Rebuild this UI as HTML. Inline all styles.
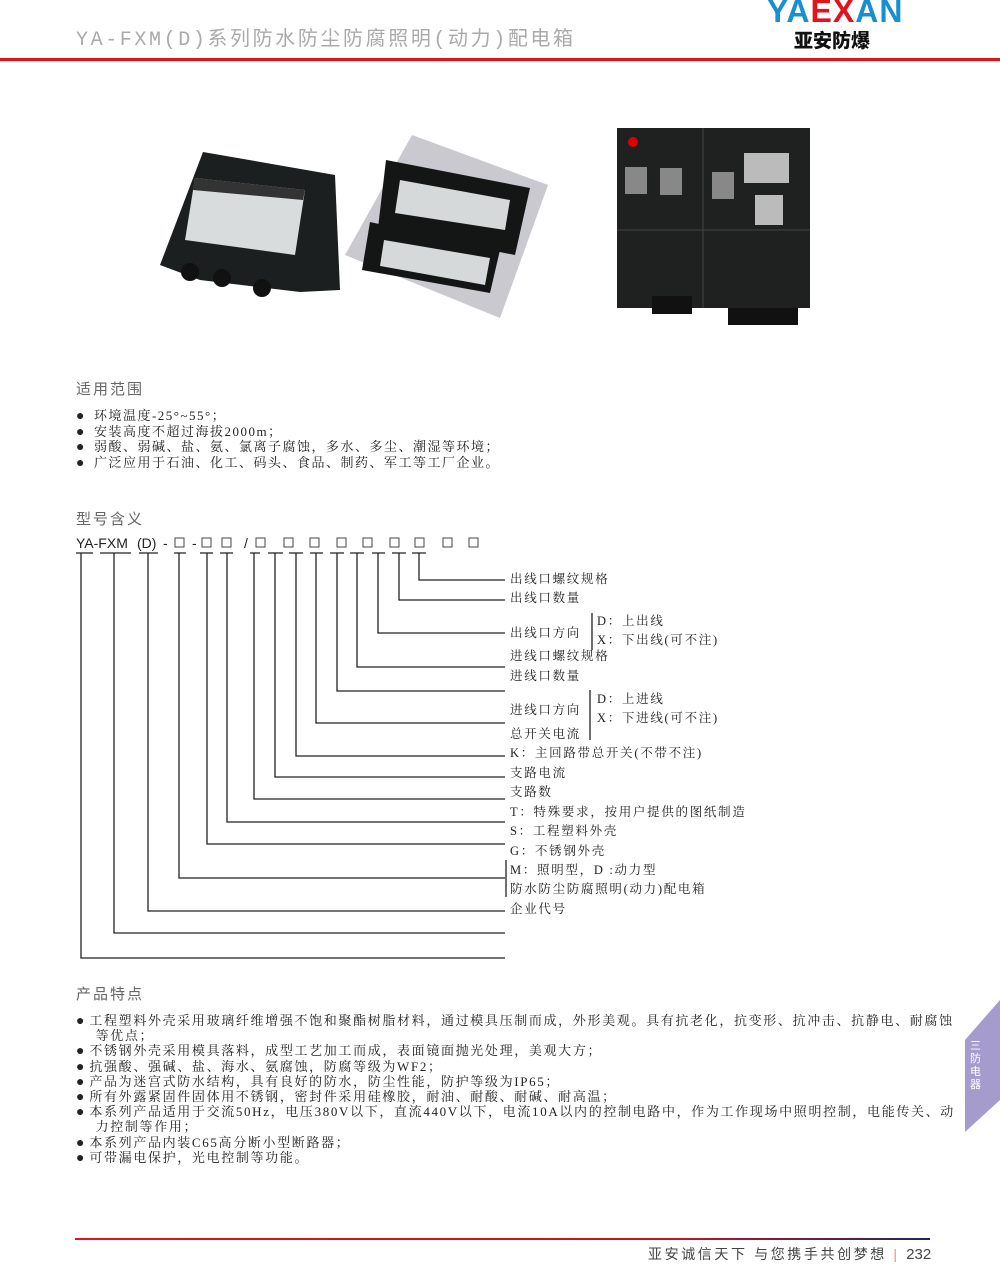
<!DOCTYPE html>
<html><head><meta charset="utf-8">
<style>
*{margin:0;padding:0;box-sizing:border-box}
body{width:1000px;height:1267px;position:relative;background:#fff;font-family:"Liberation Serif","Noto Serif CJK SC",serif;color:#222;overflow:hidden}
.a{position:absolute;white-space:nowrap}
.h{font-family:"Liberation Sans","Noto Sans CJK SC",sans-serif;color:#666;font-size:15px;letter-spacing:2px}
.li{font-size:13px;line-height:15.2px;letter-spacing:1.65px}
.lab{font-size:12.5px;line-height:14px;letter-spacing:1.7px}
.b{font-size:14px;letter-spacing:0;line-height:0}
</style></head><body>
<div class="a" style="left:76px;top:22px;font-size:20px;color:#aaa;letter-spacing:2.6px;font-family:'Liberation Mono','Noto Sans CJK SC',monospace">YA-FXM(D)系列防水防尘防腐照明(动力)配电箱</div>
<div class="a" style="left:767px;top:-7px;font-family:'Liberation Sans',sans-serif;font-weight:bold;font-size:32px;letter-spacing:1px;color:#1a8fd0">YA<span style="color:#e0141b">EX</span>AN</div>
<div class="a" style="left:794px;top:26px;font-family:'Liberation Sans','Noto Sans CJK SC',sans-serif;font-weight:900;font-size:19px;color:#111">亚安防爆</div>
<div class="a" style="left:0;top:58px;width:1000px;height:3px;background:#e0141b"></div>

<svg class="a" style="left:0;top:0" width="1000" height="1267">
<polygon points="160,265 203,152 335,175 340,290 300,292 200,280" fill="#1c1f1f"/>
<polygon points="195,178 305,190 295,255 185,240" fill="#d8dcdc"/>
<polygon points="195,178 305,190 303,200 193,190" fill="#333"/>
<circle cx="190" cy="272" r="9" fill="#111"/><circle cx="222" cy="278" r="9" fill="#111"/><circle cx="262" cy="288" r="9" fill="#111"/>
<polygon points="345,255 412,135 548,185 500,318" fill="#c9c9cf"/>
<polygon points="386,160 530,188 515,255 378,228" fill="#141616"/>
<polygon points="400,180 510,200 505,230 395,213" fill="#d5d9d9"/>
<polygon points="370,222 500,250 490,293 362,270" fill="#141616"/>
<polygon points="384,240 490,258 485,285 380,266" fill="#d5d9d9"/>
<rect x="617" y="128" width="193" height="180" fill="#1f2020"/>
<line x1="703" y1="128" x2="703" y2="308" stroke="#444"/>
<line x1="617" y1="230" x2="810" y2="230" stroke="#444"/>
<circle cx="633" cy="142" r="5" fill="#d00"/>
<rect x="625" y="167" width="22" height="27" fill="#888"/><rect x="660" y="168" width="22" height="27" fill="#888"/>
<rect x="712" y="172" width="22" height="27" fill="#888"/><rect x="744" y="153" width="45" height="30" fill="#bbb"/><rect x="755" y="195" width="28" height="30" fill="#bbb"/>
<rect x="652" y="296" width="40" height="18" fill="#111"/><rect x="728" y="308" width="70" height="17" fill="#111"/>

<g stroke="#222" stroke-width="1.3" fill="none">
<path d="M419,553V580H505"/><path d="M399,553V600H505"/><path d="M378,553V633H505"/>
<path d="M357,553V667H505"/><path d="M337,553V691H505"/><path d="M316,553V723H505"/>
<path d="M296,553V756H505"/><path d="M275,553V777H505"/><path d="M254,553V799H505"/>
<path d="M227,553V822H505"/><path d="M207,553V844H505"/><path d="M179,553V878H505"/>
<path d="M148,553V911H505"/><path d="M114,553V933H505"/><path d="M81,553V958H505"/>
<path d="M76,553H93M100,553H131M139,553H158M174,553H186M200,553H213M220,553H233M250,553H260M268,553H283M289,553H303M310,553H323M330,553H344M350,553H364M372,553H385M392,553H406M412,553H426"/>
<path d="M592,613V650M590,690V740M506,860V897"/>
</g>
<g font-family="Liberation Sans,sans-serif" font-size="14" fill="#222">
<text x="76" y="548">YA-FXM</text><text x="137" y="548">(D)</text><text x="163" y="548">-</text>
<g fill="none" stroke="#444" stroke-width="1">
<rect x="175" y="538" width="9" height="9"/><rect x="202" y="538" width="9" height="9"/><rect x="222" y="538" width="9" height="9"/>
<rect x="256" y="538" width="9" height="9"/><rect x="284" y="538" width="9" height="9"/><rect x="310" y="538" width="9" height="9"/>
<rect x="337" y="538" width="9" height="9"/><rect x="363" y="538" width="9" height="9"/><rect x="390" y="538" width="9" height="9"/>
<rect x="415" y="538" width="9" height="9"/><rect x="443" y="538" width="9" height="9"/><rect x="469" y="538" width="9" height="9"/>
</g>
<text x="192" y="548">-</text>
<text x="244" y="548">/</text>
</g>
<defs><linearGradient id="g" x1="0" x2="1"><stop offset="0" stop-color="#e0141b"/><stop offset="0.7" stop-color="#c0142a"/><stop offset="1" stop-color="#1e2a55"/></linearGradient></defs>
<rect x="75" y="1238" width="855" height="2" fill="url(#g)"/>
<polygon points="1000,1000 965,1040 965,1132 1000,1100" fill="#a59bcd"/>
</svg>

<div class="a h" style="left:76px;top:378px">适用范围</div>
<div class="a li" style="left:76px;top:408px;letter-spacing:1.5px;line-height:15.5px"><span class="b">●</span>&nbsp; 环境温度-25°~55°；<br><span class="b">●</span>&nbsp; 安装高度不超过海拔2000m；<br><span class="b">●</span>&nbsp; 弱酸、弱碱、盐、氨、氯离子腐蚀，多水、多尘、潮湿等环境；<br><span class="b">●</span>&nbsp; 广泛应用于石油、化工、码头、食品、制药、军工等工厂企业。</div>
<div class="a h" style="left:76px;top:508px">型号含义</div>

<div class="a lab" style="left:510px;top:572px">出线口螺纹规格</div>
<div class="a lab" style="left:510px;top:591px">出线口数量</div>
<div class="a lab" style="left:597px;top:614px">D：上出线</div>
<div class="a lab" style="left:510px;top:626px">出线口方向</div>
<div class="a lab" style="left:597px;top:633px">X：下出线(可不注)</div>
<div class="a lab" style="left:510px;top:649px">进线口螺纹规格</div>
<div class="a lab" style="left:510px;top:669px">进线口数量</div>
<div class="a lab" style="left:597px;top:692px">D：上进线</div>
<div class="a lab" style="left:510px;top:703px">进线口方向</div>
<div class="a lab" style="left:597px;top:711px">X：下进线(可不注)</div>
<div class="a lab" style="left:510px;top:727px">总开关电流</div>
<div class="a lab" style="left:510px;top:746px">K：主回路带总开关(不带不注)</div>
<div class="a lab" style="left:510px;top:766px">支路电流</div>
<div class="a lab" style="left:510px;top:785px">支路数</div>
<div class="a lab" style="left:510px;top:805px">T：特殊要求，按用户提供的图纸制造</div>
<div class="a lab" style="left:510px;top:824px">S：工程塑料外壳</div>
<div class="a lab" style="left:510px;top:844px">G：不锈钢外壳</div>
<div class="a lab" style="left:510px;top:863px">M：照明型，D :动力型</div>
<div class="a lab" style="left:510px;top:882px">防水防尘防腐照明(动力)配电箱</div>
<div class="a lab" style="left:510px;top:902px">企业代号</div>

<div class="a h" style="left:76px;top:983px">产品特点</div>
<div class="a li" style="left:76px;top:1013px">
<span class="b">●</span> 工程塑料外壳采用玻璃纤维增强不饱和聚酯树脂材料，通过模具压制而成，外形美观。具有抗老化，抗变形、抗冲击、抗静电、耐腐蚀<br>&nbsp;&nbsp;&nbsp;&nbsp;等优点；<br>
<span class="b">●</span> 不锈钢外壳采用模具落料，成型工艺加工而成，表面镜面抛光处理，美观大方；<br>
<span class="b">●</span> 抗强酸、强碱、盐、海水、氨腐蚀，防腐等级为WF2；<br>
<span class="b">●</span> 产品为迷宫式防水结构，具有良好的防水，防尘性能，防护等级为IP65；<br>
<span class="b">●</span> 所有外露紧固件固体用不锈钢，密封件采用硅橡胶，耐油、耐酸、耐碱、耐高温；<br>
<span class="b">●</span> 本系列产品适用于交流50Hz，电压380V以下，直流440V以下，电流10A以内的控制电路中，作为工作现场中照明控制，电能传关、动<br>&nbsp;&nbsp;&nbsp;&nbsp;力控制等作用；<br>
<span class="b">●</span> 本系列产品内装C65高分断小型断路器；<br>
<span class="b">●</span> 可带漏电保护，光电控制等功能。</div>
<div class="a" style="left:970px;top:1040px;width:12px;font-size:11px;line-height:13px;color:#fff;white-space:normal;font-family:'Liberation Sans','Noto Sans CJK SC',sans-serif">三防电器</div>

<div class="a" style="left:648px;top:1244px;font-size:14px;color:#444;letter-spacing:2.6px;font-family:'Liberation Sans','Noto Sans CJK SC',sans-serif">亚安诚信天下 与您携手共创梦想 <span style="color:#e88">|</span> <span style="letter-spacing:0;font-size:15px">232</span></div>
</body></html>
